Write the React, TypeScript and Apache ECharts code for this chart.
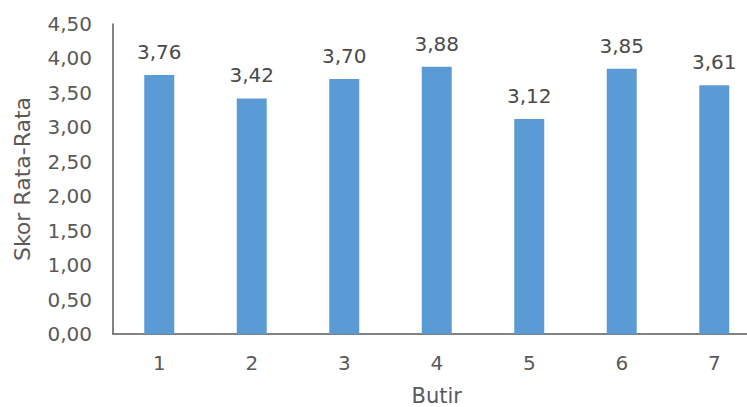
import React, { useEffect, useRef } from "react";
import * as echarts from "echarts";

const categories = ["1", "2", "3", "4", "5", "6", "7"];
const values = [3.76, 3.42, 3.7, 3.88, 3.12, 3.85, 3.61];
const yTitle = "Skor Rata-Rata";
const xTitle = "Butir";

const fmt = (v: number) => v.toFixed(2).replace(".", ",");

export default function App() {
  const ref = useRef<HTMLDivElement>(null);
  useEffect(() => {
    document.body.style.margin = "0";
    const chart = echarts.init(ref.current!, null, { renderer: "svg" });
    const font = "DejaVu Sans";
    chart.setOption({
      animation: false,
      backgroundColor: "#ffffff",
      grid: { left: 113, top: 24, width: 647.5, height: 310, containLabel: false, outerBoundsMode: "none" },
      xAxis: {
        type: "category",
        data: categories,
        axisLine: { show: true, lineStyle: { color: "#595959", width: 1.5 } },
        axisTick: { show: false },
        axisLabel: { color: "#595959", fontSize: 20, fontFamily: font, margin: 19 },
        name: xTitle,
        nameLocation: "middle",
        nameGap: 51,
        nameTextStyle: { color: "#595959", fontSize: 21, fontFamily: font, lineHeight: 21 },
      },
      yAxis: {
        type: "value",
        min: 0,
        max: 4.5,
        interval: 0.5,
        axisLine: { show: true, lineStyle: { color: "#595959", width: 1.5 } },
        axisTick: { show: false },
        splitLine: { show: false },
        axisLabel: { color: "#595959", fontSize: 20, fontFamily: font, margin: 21, formatter: (v: number) => fmt(v) },
        name: yTitle,
        nameLocation: "middle",
        nameGap: 80,
        nameTextStyle: { color: "#595959", fontSize: 22, fontFamily: font },
      },
      series: [
        {
          type: "bar",
          data: values,
          barWidth: 30,
          itemStyle: { color: "#5B9BD5" },
          label: {
            show: true,
            position: "top",
            distance: 13,
            color: "#4a4a4a",
            fontSize: 20,
            fontFamily: font,
            formatter: (p: any) => fmt(p.value),
          },
        },
      ],
    });
    return () => chart.dispose();
  }, []);
  return (
    <div style={{ width: 747, height: 407, overflow: "hidden", position: "relative" }}>
      <div ref={ref} style={{ width: 770, height: 407 }} />
    </div>
  );
}
